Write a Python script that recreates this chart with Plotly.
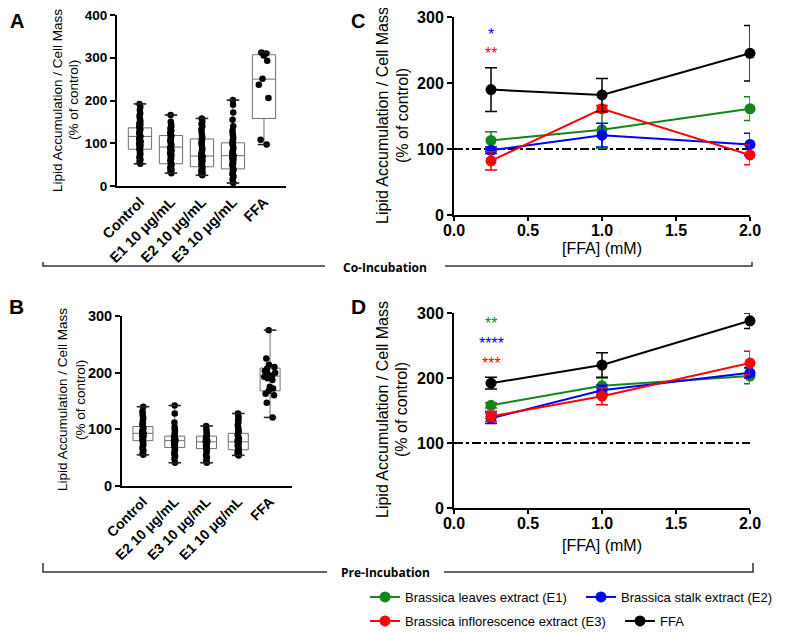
import plotly.graph_objects as go

# page body adds an 8px margin: the figure is 8px smaller and all layout positions are given
# in window pixels, shifted by that margin.
OFF = 8
W, H = 785 - OFF, 633 - OFF
def px(x): return (x - OFF) / W
def py(y): return 1 - (y - OFF) / H

FONT = "Liberation Sans, Arial, sans-serif"

# ---------------- Panel A (Co-Incubation, boxes) ----------------
cats_A = ["Control", "E1 10 μg/mL", "E2 10 μg/mL", "E3 10 μg/mL", "FFA"]
q1_A = [86, 52, 45, 40, 158]
med_A = [116, 91, 70, 71, 250]
q3_A = [136, 118, 110, 101, 307]
lo_A = [52, 30, 25, 7, 97]
hi_A = [192, 166, 158, 201, 312]
ctrl_A = [192, 185, 178, 170, 165, 160, 155, 150, 147, 143, 140, 137, 135, 133, 130, 127, 124, 121, 118, 116,
          114, 112, 110, 107, 104, 101, 98, 95, 92, 89, 87, 85, 82, 78, 74, 70, 66, 62, 57, 52]
e1_A = [166, 150, 145, 140, 135, 130, 126, 122, 119, 117, 114, 110, 106, 102, 98, 95, 93, 91, 89, 86,
        83, 80, 76, 72, 68, 64, 60, 56, 53, 51, 48, 45, 42, 38, 34, 30]
e2_A = [158, 155, 150, 145, 140, 133, 127, 120, 114, 110, 106, 101, 96, 91, 86, 82, 78, 74, 71, 69,
        66, 63, 60, 57, 54, 51, 48, 46, 44, 41, 38, 35, 32, 28, 25]
e3_A = [201, 190, 172, 155, 140, 130, 124, 118, 112, 107, 103, 100, 97, 93, 89, 85, 81, 77, 73, 71,
        69, 66, 62, 58, 54, 50, 46, 42, 40, 37, 33, 28, 22, 15, 7]
ffa_A = [312, 310, 305, 293, 251, 237, 206, 108, 97]
pts_A = [ctrl_A, e1_A, e2_A, e3_A, ffa_A]

# ---------------- Panel B (Pre-Incubation, boxes) ----------------
cats_B = ["Control", "E2 10 μg/mL", "E3 10 μg/mL", "E1 10 μg/mL", "FFA"]
q1_B = [80, 68, 66, 64, 168]
med_B = [93, 80, 78, 78, 194]
q3_B = [105, 88, 88, 93, 208]
lo_B = [55, 41, 41, 54, 121]
hi_B = [140, 142, 106, 128, 275]
ctrl_B = [140, 132, 127, 123, 119, 115, 112, 109, 106, 104, 102, 100, 98, 96, 94, 93, 92, 90, 88, 86,
          84, 82, 80, 78, 76, 73, 70, 66, 62, 58, 55]
e2_B = [142, 128, 112, 104, 100, 96, 92, 89, 86, 84, 82, 81, 80, 79, 77, 75, 73, 71, 69, 67,
        64, 61, 57, 53, 48, 41]
e3_B = [106, 100, 95, 91, 88, 86, 84, 82, 80, 79, 78, 77, 75, 73, 71, 69, 67, 65, 62, 58, 54, 50, 45, 41]
e1_B = [128, 124, 120, 116, 112, 108, 104, 100, 97, 94, 92, 90, 87, 84, 81, 79, 78, 76, 74, 72,
        70, 68, 66, 64, 62, 60, 58, 56, 54]
ffa_B = [275, 225, 214, 210, 207, 203, 200, 198, 195, 193, 190, 187, 175, 172, 168, 163, 160, 147, 121]
pts_B = [ctrl_B, e2_B, e3_B, e1_B, ffa_B]

# ---------------- Panels C & D (lines) ----------------
ffa_mM = [0.25, 1.0, 2.0]
series_names = ["Brassica leaves extract (E1)", "Brassica stalk extract (E2)",
                "Brassica inflorescence extract (E3)", "FFA"]
series_colors = ["#13861b", "#0000ff", "#ff0000", "#000000"]

C_E1 = [113, 129, 161]; C_E1_err = [13, 28, 18]
C_E2 = [98, 121, 107]; C_E2_err = [5, 18, 17]
C_E3 = [82, 161, 91]; C_E3_err = [14, 5, 15]
C_FFA = [190, 182, 245]; C_FFA_err = [33, 25, 42]

D_E1 = [158, 188, 203]; D_E1_err = [4, 12, 12]
D_E2 = [138, 181, 208]; D_E2_err = [8, 8, 8]
D_E3 = [141, 172, 223]; D_E3_err = [8, 13, 18]
D_FFA = [192, 220, 288]; D_FFA_err = [9, 19, 12]

C_vals = [(C_E1, C_E1_err), (C_E2, C_E2_err), (C_E3, C_E3_err), (C_FFA, C_FFA_err)]
D_vals = [(D_E1, D_E1_err), (D_E2, D_E2_err), (D_E3, D_E3_err), (D_FFA, D_FFA_err)]
control_level = 100

fig = go.Figure()

def add_boxes(cats, q1, med, q3, lo, hi, pts, xa, ya, bw, jit):
    fig.add_trace(go.Box(x=cats, q1=q1, median=med, q3=q3, lowerfence=lo, upperfence=hi,
                         boxpoints=False, fillcolor="white", width=bw,
                         line=dict(color="#707070", width=1), xaxis=xa, yaxis=ya,
                         showlegend=False, hoverinfo="skip"))
    fig.add_trace(go.Scatter(x=cats + cats, y=lo + hi, mode="markers", xaxis=xa, yaxis=ya,
                             marker=dict(symbol="line-ew", size=9, line=dict(color="#222", width=1.5)),
                             showlegend=False, hoverinfo="skip", cliponaxis=False))
    for c, p, j in zip(cats, pts, jit):
        fig.add_trace(go.Box(x=[c] * len(p), y=p, boxpoints="all", jitter=j, pointpos=0,
                             width=bw, fillcolor="rgba(0,0,0,0)", line=dict(color="rgba(0,0,0,0)", width=0),
                             marker=dict(color="black", size=6.5), xaxis=xa, yaxis=ya,
                             showlegend=False, hoverinfo="skip"))

add_boxes(cats_A, q1_A, med_A, q3_A, lo_A, hi_A, pts_A, "x", "y", 0.75, [0.07, 0.07, 0.07, 0.07, 0.7])
add_boxes(cats_B, q1_B, med_B, q3_B, lo_B, hi_B, pts_B, "x3", "y3", 0.63, [0.08, 0.08, 0.08, 0.08, 0.8])

legend_ids = ["legend", "legend2", "legend3", "legend4"]

def add_lines(vals, xa, ya, legend_on):
    fig.add_trace(go.Scatter(x=[0, 2], y=[control_level, control_level], mode="lines",
                             line=dict(color="black", width=2, dash="dashdot"),
                             xaxis=xa, yaxis=ya, showlegend=False, hoverinfo="skip"))
    for i, ((v, e), name, col) in enumerate(zip(vals, series_names, series_colors)):
        fig.add_trace(go.Scatter(x=ffa_mM, y=v, mode="lines+markers", name=name,
                                 line=dict(color=col, width=2), marker=dict(color=col, size=11),
                                 error_y=dict(type="data", array=e, color=col, thickness=1.5, width=6),
                                 xaxis=xa, yaxis=ya, cliponaxis=False,
                                 showlegend=legend_on, legend=legend_ids[i]))

add_lines(C_vals, "x2", "y2", True)
add_lines(D_vals, "x4", "y4", False)

axis_common = dict(showline=True, linecolor="black", linewidth=2, showgrid=False, zeroline=False,
                   ticks="outside", tickcolor="black", tickwidth=2, ticklen=5)

def yax(dom, rng, dtick, size, anchor):
    return dict(axis_common, domain=[py(dom[1]), py(dom[0])], range=rng, dtick=dtick, anchor=anchor,
                ticklabeloverflow="allow",
                tickfont=dict(size=size, weight="bold", color="black", family=FONT))

def xcat(dom, rng, cats, anchor, size):
    return dict(axis_common, domain=[px(dom[0]), px(dom[1])], range=rng, type="category",
                categoryorder="array", categoryarray=cats, ticks="", tickangle=-45, anchor=anchor,
                tickfont=dict(size=size, weight="bold", color="black", family=FONT))

def xlin(dom, anchor):
    return dict(axis_common, domain=[px(dom[0]), px(dom[1])], range=[0, 2], dtick=0.5, tickformat=".1f",
                anchor=anchor, ticklen=4, ticklabelstandoff=-4, ticklabeloverflow="allow",
                tickfont=dict(size=16, weight="bold", color="black", family=FONT))

def leg(x, y):
    return dict(x=px(x), y=py(y), xanchor="left", yanchor="middle", orientation="h",
                font=dict(size=13, family=FONT, color="black"), bgcolor="rgba(0,0,0,0)")

fig.update_layout(
    width=W, height=H, margin=dict(l=0, r=0, t=0, b=0, autoexpand=False),
    paper_bgcolor="white", plot_bgcolor="white",
    font=dict(family=FONT, color="black"),
    boxmode="overlay",
    xaxis=xcat((117, 286), [-0.74, 4.71], cats_A, "y", 14.5),
    yaxis=yax((15, 186), [0, 400], 100, 13.5, "x"),
    xaxis3=xcat((122, 292), [-0.66, 4.69], cats_B, "y3", 14),
    yaxis3=yax((316, 486), [0, 300], 100, 14.5, "x3"),
    xaxis2=xlin((454, 750), "y2"),
    yaxis2=yax((17, 215), [0, 300], 100, 16, "x2"),
    xaxis4=xlin((454, 750), "y4"),
    yaxis4=yax((313, 508), [0, 300], 100, 16, "x4"),
    legend=leg(365, 597), legend2=leg(581, 597),
    legend3=leg(365, 621), legend4=leg(620, 621),
)

ann = []
def t(x, y, text, size, bold=False, angle=0, color="black", family=FONT, yanchor="middle"):
    ann.append(dict(x=px(x), y=py(y), xref="paper", yref="paper", text=text, showarrow=False,
                    textangle=angle, xanchor="center", yanchor=yanchor,
                    font=dict(size=size, color=color, family=family, weight="bold" if bold else "normal")))

# panel letters
t(17, 8, "A", 20, True, yanchor="top"); t(358, 8, "C", 20, True, yanchor="top")
t(16, 307, "B", 21, True); t(358, 307, "D", 21, True)
# y titles
t(57, 100, "Lipid Accumulation / Cell Mass", 13.5, angle=-90); t(73, 100, "(% of control)", 13.5, angle=-90)
t(62, 400, "Lipid Accumulation / Cell Mass", 13.5, angle=-90); t(80, 400, "(% of control)", 13.5, angle=-90)
t(382, 116, "Lipid Accumulation / Cell Mass", 16, angle=-90); t(402, 116, "(% of control)", 16, angle=-90)
t(382, 410, "Lipid Accumulation / Cell Mass", 16, angle=-90); t(401, 410, "(% of control)", 16, angle=-90)
# x titles
t(602, 249, "[FFA] (mM)", 16); t(602, 545, "[FFA] (mM)", 16)
# brackets labels
t(385, 267, "Co-Incubation", 12, True, family="Open Sans, sans-serif")
t(385, 572, "Pre-Incubation", 12, True, family="Open Sans, sans-serif")

# significance stars
def star(xa, ya, yv, text, col):
    ann.append(dict(x=0.25, y=yv, xref=xa, yref=ya, text=text, showarrow=False, yshift=-4,
                    font=dict(size=16, color=col, family=FONT)))
star("x2", "y2", 280, "*", "#0000ff")
star("x2", "y2", 250, "**", "#ff0000")
star("x4", "y4", 290, "**", "#13861b")
star("x4", "y4", 259, "****", "#0000ff")
star("x4", "y4", 228, "***", "#ff0000")
fig.update_layout(annotations=ann)

shapes = []
def seg(pts):
    path = "M " + " L ".join(f"{px(a)},{py(b)}" for a, b in pts)
    shapes.append(dict(type="path", path=path, xref="paper", yref="paper",
                       line=dict(color="#333", width=1.5)))
seg([(43, 262), (43, 266), (325, 266)]); seg([(445, 266), (752, 266), (752, 262)])
seg([(43, 563), (43, 572), (327, 572)]); seg([(444, 572), (753, 572), (753, 563)])
fig.update_layout(shapes=shapes)

fig.write_html("out.html")
